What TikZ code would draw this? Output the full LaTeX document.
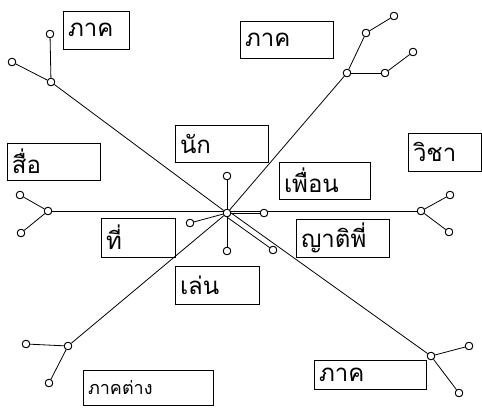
\documentclass[tikz,border=0pt]{standalone}
\usepackage{fontspec}
\newfontfamily\thaifont[Script=Thai]{Loma}
\tikzset{
  dot/.style={circle, draw, fill=white, inner sep=0pt, minimum size=7.5pt, line width=0.8pt},
  lbl/.style={draw, line width=0.9pt, inner xsep=5pt, inner ysep=0pt, align=left,
              font=\thaifont\fontsize{24}{26}\selectfont},
  lblsmall/.style={lbl, font=\thaifont\fontsize{18}{20}\selectfont},
  ln/.style={line width=0.8pt}
}
\begin{document}
\begin{tikzpicture}[x=1pt,y=-1pt]
\useasboundingbox (0,0) rectangle (482,410);
% boxes
\node[lbl, text width=56pt, minimum height=38pt] (b1) at (96,30) {ภาค};
\node[lbl, text width=83pt, minimum height=37pt] (b2) at (286.5,39.5) {ภาค};
\node[lbl, text width=83pt, minimum height=37pt] (b3) at (221.5,143.5) {นัก};
\node[lbl, text width=83pt, minimum height=37pt] (b4) at (53.5,161.5) {สื่อ};
\node[lbl, text width=81pt, minimum height=37pt] (b5) at (324.5,180.5) {เพื่อน};
\node[lbl, text width=63pt, minimum height=38pt] (b6) at (444.5,152) {วิชา};
\node[lbl, text width=64pt, minimum height=39pt] (b7) at (138,237.5) {ที่};
\node[lbl, text width=74pt, minimum height=38pt] (b8) at (217,285) {เล่น};
\node[lbl, text width=83pt, minimum height=38pt] (b9) at (342.5,238) {ญาติพี่};
\node[lblsmall, text width=120pt, minimum height=35pt] (b10) at (148,387.5) {ภาคต่าง};
\node[lbl, text width=102pt, minimum height=29pt] (b11) at (370,374.5) {ภาค};
% circles
\node[dot] (c) at (227,213) {};
\node[dot] (cu) at (227,176) {};
\node[dot] (cd) at (227,251) {};
\node[dot] (cl) at (190,223) {};
\node[dot] (cr) at (264,213) {};
\node[dot] (cdr) at (273,250) {};
\node[dot] (ul) at (51,82) {};
\node[dot] (ul1) at (50,34) {};
\node[dot] (ul2) at (12,62) {};
\node[dot] (ur) at (347,73) {};
\node[dot] (ur1) at (366,33) {};
\node[dot] (ur1b) at (394,16) {};
\node[dot] (ur2) at (385,73) {};
\node[dot] (ur2b) at (413,52) {};
\node[dot] (l) at (48,211) {};
\node[dot] (l1) at (20,195) {};
\node[dot] (l2) at (21,233) {};
\node[dot] (r) at (421,211) {};
\node[dot] (r1) at (450,195) {};
\node[dot] (r2) at (449,232) {};
\node[dot] (dl) at (68,346) {};
\node[dot] (dl1) at (26,344) {};
\node[dot] (dl2) at (49,383) {};
\node[dot] (dr) at (431,356) {};
\node[dot] (dr1) at (469,346) {};
\node[dot] (dr2) at (459,393) {};
% connectors
\begin{scope}[ln]
\draw (l) -- (r);
\draw (ul) -- (c);
\draw (ur) -- (c);
\draw (dl) -- (c);
\draw (c.east) -- (dr);
\draw (c) -- (cu);
\draw (c) -- (cd);
\draw (c) -- (cl);
\draw (c) -- (cr);
\draw (c.south) -- (cdr);
\draw (ul) -- (ul1);
\draw (ul) -- (ul2);
\draw (ur) -- (ur1);
\draw (ur1) -- (ur1b);
\draw (ur) -- (ur2);
\draw (ur2) -- (ur2b);
\draw (l) -- (l1);
\draw (l) -- (l2);
\draw (r) -- (r1);
\draw (r) -- (r2);
\draw (dl) -- (dl1);
\draw (dl) -- (dl2);
\draw (dr) -- (dr1);
\draw (dr) -- (dr2);
\end{scope}
% redraw circles on top
\foreach \n in {c,cu,cd,cl,cr,cdr,ul,ul1,ul2,ur,ur1,ur1b,ur2,ur2b,l,l1,l2,r,r1,r2,dl,dl1,dl2,dr,dr1,dr2}
  \draw[line width=0.8pt, fill=white] (\n) circle (3.75pt);
\end{tikzpicture}
\end{document}
